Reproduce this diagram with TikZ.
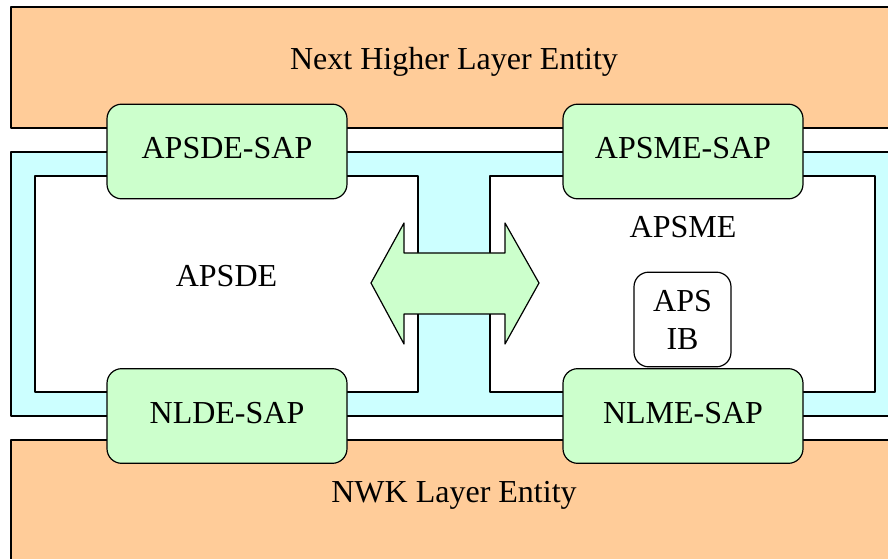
\documentclass[tikz,border=0pt]{standalone}
\usepackage{fontspec}
\setmainfont{Liberation Serif}
\definecolor{entorange}{HTML}{FFCC99}
\definecolor{apscyan}{HTML}{CCFFFF}
\definecolor{sapgreen}{HTML}{CCFFCC}
\begin{document}
\begin{tikzpicture}[x=0.75pt,y=-0.75pt,line width=0.9pt,line join=round,
	font=\fontsize{24}{28.5}\selectfont,
	sapbox/.style={draw,fill=sapgreen,rounded corners=11pt,minimum width=180pt,minimum height=71pt,inner sep=0pt,text height=16pt,text depth=4.75pt},
	ibbox/.style={draw,fill=white,rounded corners=11pt,minimum width=72.75pt,minimum height=71pt,inner sep=0pt,align=center},
	lbl/.style={anchor=base,inner sep=0pt}]
\def\xl{11} \def\xr{900} % outer edges
\def\ya{152} \def\yb{416} % APS frame
\clip (0,0) rectangle (888,559);
% entities
\draw[fill=entorange] (\xl,7) rectangle (\xr,128);
\draw[fill=entorange] (\xl,440) rectangle (\xr,570);
\node[lbl] (nhle) at (454,70) {Next Higher Layer Entity};
\node[lbl] (nwk) at (454,502) {NWK Layer Entity};
% APS frame
\draw[fill=apscyan] (\xl,\ya) rectangle (\xr,\yb);
\draw[fill=white] (35,176) rectangle (418,392);
\draw[fill=white] (490,176) rectangle (875,392);
\node[lbl] (apsde) at (226.5,287) {APSDE};
\node[lbl] (apsme) at (683,238) {APSME};
% double arrow
\draw[fill=sapgreen] (371,283) -- (404,223) -- (404,253) -- (505,253) -- (505,223)
	-- (539,283) -- (505,344) -- (505,314) -- (404,314) -- (404,344) -- cycle;
% SAPs
\node[sapbox] (apsdesap) at (227,151.5) {APSDE-SAP};
\node[sapbox] (apsmesap) at (683,151.5) {APSME-SAP};
\node[sapbox] (nldesap) at (227,416) {NLDE-SAP};
\node[sapbox] (nlmesap) at (683,416) {NLME-SAP};
\node[ibbox] (apsib) at (682.5,319.5) {APS\\IB};
\end{tikzpicture}
\end{document}
